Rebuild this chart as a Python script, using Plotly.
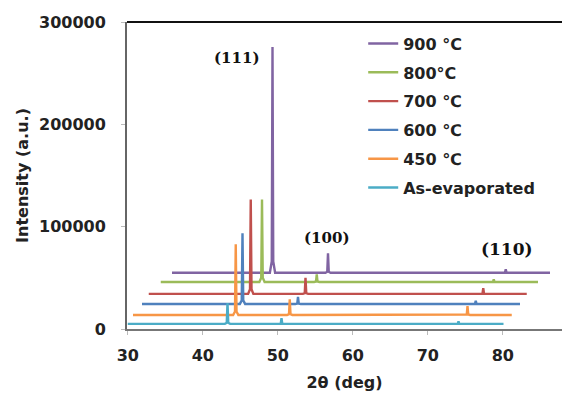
import plotly.graph_objects as go

# ---- data ----
series_names = ["900 \u00b0C", "800\u00b0C", "700 \u2103", "600 \u2103", "450 \u2103", "As-evaporated"]
series_colors = ["#8064A2", "#9BBB59", "#C0504D", "#4F81BD", "#F79646", "#4BACC6"]
x_start = [35.9, 34.4, 32.8, 31.9, 30.7, 30.0]
x_end = [86.3, 84.7, 83.2, 82.3, 81.2, 80.1]
baseline = [55000, 46000, 34300, 24500, 13700, 5000]
peak_pos = [
    [49.3, 56.7, 80.4],
    [47.9, 55.2, 78.8],
    [46.4, 53.7, 77.4],
    [45.3, 52.7, 76.4],
    [44.4, 51.6, 75.3],
    [43.3, 50.5, 74.1],
]
peak_top = [
    [275600, 74000, 58500],
    [126600, 53500, 48500],
    [126600, 50000, 40000],
    [93500, 31500, 27500],
    [82800, 29000, 22400],
    [25300, 10500, 7500],
]
peak_labels = ["(111)", "(100)", "(110)"]
peak_label_x = [44.6, 56.6, 80.5]
peak_label_y = [265000, 89000, 78000]
x_ticks = [30, 40, 50, 60, 70, 80]
y_ticks = [0, 100000, 200000, 300000]

HALF = 0.35  # half width of a drawn peak base (deg)

fig = go.Figure()
for i, name in enumerate(series_names):
    xs = [x_start[i]]
    ys = [baseline[i]]
    for p, t in zip(peak_pos[i], peak_top[i]):
        foot = baseline[i] + 0.05 * (t - baseline[i])
        xs += [p - HALF, p - 0.1, p, p + 0.1, p + HALF]
        ys += [baseline[i], foot, t, foot, baseline[i]]
    xs.append(x_end[i])
    ys.append(baseline[i])
    fig.add_trace(go.Scatter(
        x=xs, y=ys, mode="lines", name=name, legendgroup=name,
        line=dict(color=series_colors[i], width=2.4),
    ))

for lab, lx, ly, fs in zip(peak_labels, peak_label_x, peak_label_y, [15, 15, 17]):
    fig.add_annotation(x=lx, y=ly, text=lab, showarrow=False,
                       font=dict(family="DejaVu Serif", size=fs, color="#111", weight="bold"),
                       xanchor="center", yanchor="middle")

font_bold = "DejaVu Sans"
fig.update_layout(
    width=562, height=396,
    margin=dict(l=127, r=0, t=22, b=67),
    paper_bgcolor="white", plot_bgcolor="white",
    font=dict(family=font_bold, size=16, color="#222"),
    showlegend=True,
    legend=dict(x=0.543, y=0.985, xanchor="left", yanchor="top",
                bgcolor="rgba(0,0,0,0)", font=dict(size=16, family=font_bold, weight="bold"),
                tracegroupgap=5, traceorder="grouped", itemwidth=30),
    xaxis=dict(range=[29.9, 87.9], tickvals=x_ticks, ticks="outside", ticklen=4,
               tickcolor="#bbb", showgrid=False, zeroline=False,
               showline=True, linecolor="#777", linewidth=2,
               tickfont=dict(size=16, family=font_bold, weight="bold", color="#222"),
               ticklabelstandoff=7,
               title=dict(text="2\u03b8 (deg)", standoff=13,
                          font=dict(size=16, family=font_bold, weight="bold", color="#222"))),
    yaxis=dict(range=[0, 300000], tickvals=y_ticks, ticks="outside", ticklen=4,
               tickcolor="#bbb", showgrid=False, zeroline=False,
               showline=True, linecolor="#666", linewidth=2,
               tickformat="d",
               tickfont=dict(size=16, family=font_bold, weight="bold", color="#222"),
               ticklabelstandoff=12,
               title=dict(text="Intensity (a.u.)", standoff=6,
                          font=dict(size=16, family=font_bold, weight="bold", color="#222"))),
)
fig.add_shape(type="line", xref="paper", yref="paper", x0=0, x1=1, y0=1, y1=1,
              line=dict(color="#111", width=2))

fig.write_html("out.html")
